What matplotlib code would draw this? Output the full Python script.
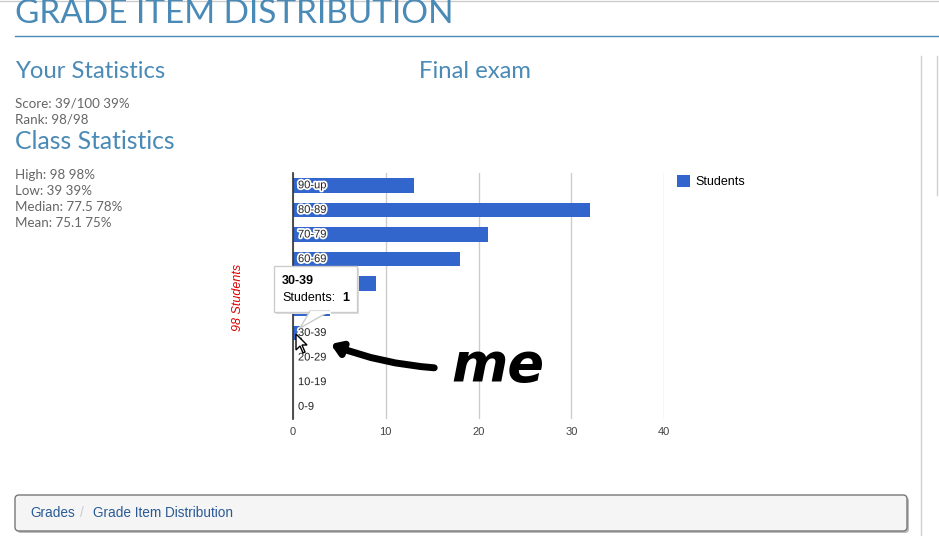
import matplotlib
matplotlib.use("Agg")
import matplotlib.pyplot as plt
import matplotlib.patheffects as pe
from matplotlib.patches import FancyBboxPatch, Polygon, FancyArrowPatch
import numpy as np

# data of the chart
categories = ["90-up", "80-89", "70-79", "60-69", "50-59",
              "40-49", "30-39", "20-29", "10-19", "0-9"]
students = [13, 32, 21, 18, 9, 4, 1, 0, 0, 0]
x_ticks = [0, 10, 20, 30, 40]
series_name = "Students"

# page texts
page_title = "GRADE ITEM DISTRIBUTION"
chart_title = "Final exam"
your_stats = ["Score: 39/100 39%", "Rank: 98/98"]
class_stats = ["High: 98 98%", "Low: 39 39%", "Median: 77.5 78%", "Mean: 75.1 75%"]
axis_label = "98 Students"
crumbs = ["Grades", "Grade Item Distribution"]

W, H = 939, 536
BLUE = "#3366cc"
HEAD = "#4a8ab6"
GRAY_TXT = "#666666"
PAGE_FONT = ["Lato", "DejaVu Sans"]
CHART_FONT = ["Liberation Sans", "DejaVu Sans"]

fig = plt.figure(figsize=(W / 100, H / 100), dpi=100)
fig.patch.set_facecolor("white")


def fx(px):
    return px / W


def fy(py):
    return 1 - py / H


# --- the bar chart ---
ax = fig.add_axes([fx(293), fy(419), fx(664) - fx(293), fy(173) - fy(419)])
pos = np.arange(len(categories))
ax.barh(pos, students, height=0.6, color=BLUE, zorder=2, label=series_name)
ax.set_xlim(0, 40)
ax.set_ylim(len(categories) - 0.5, -0.5)
ax.set_xticks(x_ticks)
ax.set_xticklabels([str(t) for t in x_ticks], fontsize=8, color="#444444",
                   family=CHART_FONT)
ax.tick_params(axis="x", length=0, pad=6)
ax.set_yticks([])
for s in ["top", "right", "bottom"]:
    ax.spines[s].set_visible(False)
ax.spines["left"].set_color("#333333")
ax.spines["left"].set_linewidth(1.2)
ax.spines["left"].set_zorder(3)
ax.grid(axis="x", color="#cccccc", linewidth=1, zorder=0)
ax.set_axisbelow(True)

for i, lab in enumerate(categories):
    ax.annotate(lab, (0, pos[i]), xytext=(3.6, 0), textcoords="offset points",
                va="center", ha="left", fontsize=8, color="#222222",
                family=CHART_FONT, zorder=4,
                path_effects=[pe.withStroke(linewidth=2.5, foreground="white")])

ax.set_ylabel(axis_label, color="#dd0000", fontsize=9, style="italic",
              family=CHART_FONT)
ax.yaxis.set_label_coords((244 - 293) / 371, (419 - 297) / 246)

fig.legend(loc="upper left", bbox_to_anchor=(fx(666), fy(164)), frameon=False,
           handlelength=1.05, handleheight=1.05, handletextpad=0.4,
           prop={"family": CHART_FONT, "size": 9})

# --- overlay for the page around the chart ---
ov = fig.add_axes([0, 0, 1, 1])
ov.set_xlim(0, W)
ov.set_ylim(H, 0)
ov.axis("off")

ov.plot([0, W], [1, 1], color="#cccccc", lw=1)
ov.text(15, 23, page_title, fontsize=24, color=HEAD, family=PAGE_FONT,
        va="baseline")
ov.plot([15, W], [36, 36], color=HEAD, lw=1)

ov.text(15, 78, "Your Statistics", fontsize=17.2, color=HEAD, family=PAGE_FONT,
        va="baseline")
ov.text(419, 78, chart_title, fontsize=17.2, color=HEAD, family=PAGE_FONT,
        va="baseline")
for k, line in enumerate(your_stats):
    ov.text(15, 107 + 16 * k, line, fontsize=9.6, color=GRAY_TXT,
            family=PAGE_FONT, va="baseline")
ov.text(15, 149, "Class Statistics", fontsize=17.8, color=HEAD, family=PAGE_FONT,
        va="baseline")
for k, line in enumerate(class_stats):
    ov.text(15, 179 + 16 * k, line, fontsize=9.6, color=GRAY_TXT,
            family=PAGE_FONT, va="baseline")

# right hand borders
ov.plot([921, 921], [56, H], color="#d0d0d0", lw=1)
ov.plot([937, 937], [56, 195], color="#d0d0d0", lw=1)

# tooltip for the hovered bar
shadow = FancyBboxPatch((276, 268), 83, 46, boxstyle="square,pad=0",
                        fc="#dddddd", ec="none", zorder=5)
ov.add_patch(shadow)
tip = FancyBboxPatch((274, 266), 83, 46, boxstyle="square,pad=0",
                     fc="white", ec="#cccccc", lw=1, zorder=6)
ov.add_patch(tip)
ov.add_patch(Polygon([[310, 311], [330, 311], [300, 328]], closed=True,
                     fc="white", ec="#cccccc", lw=1, zorder=6))
ov.plot([311, 329], [312, 312], color="white", lw=2, zorder=7)
ov.text(282, 284, categories[6], fontsize=9, weight="bold", color="black",
        family=CHART_FONT, va="baseline", zorder=8)
ov.text(282, 301, series_name + ":", fontsize=9, color="black",
        family=CHART_FONT, va="baseline", zorder=8)
ov.text(342, 301, str(students[6]), fontsize=9, weight="bold", color="black",
        family=CHART_FONT, va="baseline", zorder=8)

# mouse cursor
cx, cy = 296, 334
cur = np.array([[0, 0], [0, 16], [4, 12], [7, 19], [9, 18], [6, 11], [11, 11]])
ov.add_patch(Polygon(cur + [cx, cy], closed=True, fc="white", ec="black",
                     lw=1, zorder=9))

# hand-drawn note
ov.add_artist(FancyArrowPatch((437, 368), (328, 343),
                              arrowstyle="-|>,head_length=6,head_width=4",
                              connectionstyle="arc3,rad=-0.08",
                              color="black", lw=5, zorder=9))
ov.text(451, 381, "me", fontsize=39, weight="bold", style="italic",
        color="black", family=["DejaVu Sans"], va="baseline", zorder=9)

# breadcrumb bar
ov.add_patch(FancyBboxPatch((17, 497), 892, 36,
                            boxstyle="round,pad=0,rounding_size=4",
                            fc="#bbbbbb", ec="none", zorder=1))
ov.add_patch(FancyBboxPatch((15, 495), 892, 36,
                            boxstyle="round,pad=0,rounding_size=4",
                            fc="#f5f5f5", ec="#777777", lw=1, zorder=2))
ov.text(30, 517, crumbs[0], fontsize=9.8, color="#2a5a96", family=CHART_FONT,
        va="baseline", zorder=3)
ov.text(80, 517, "/", fontsize=9.8, color="#cccccc", family=CHART_FONT,
        va="baseline", zorder=3)
ov.text(93, 517, crumbs[1], fontsize=9.8, color="#2a5a96", family=CHART_FONT,
        va="baseline", zorder=3)

fig.savefig("out.png", dpi=100)
